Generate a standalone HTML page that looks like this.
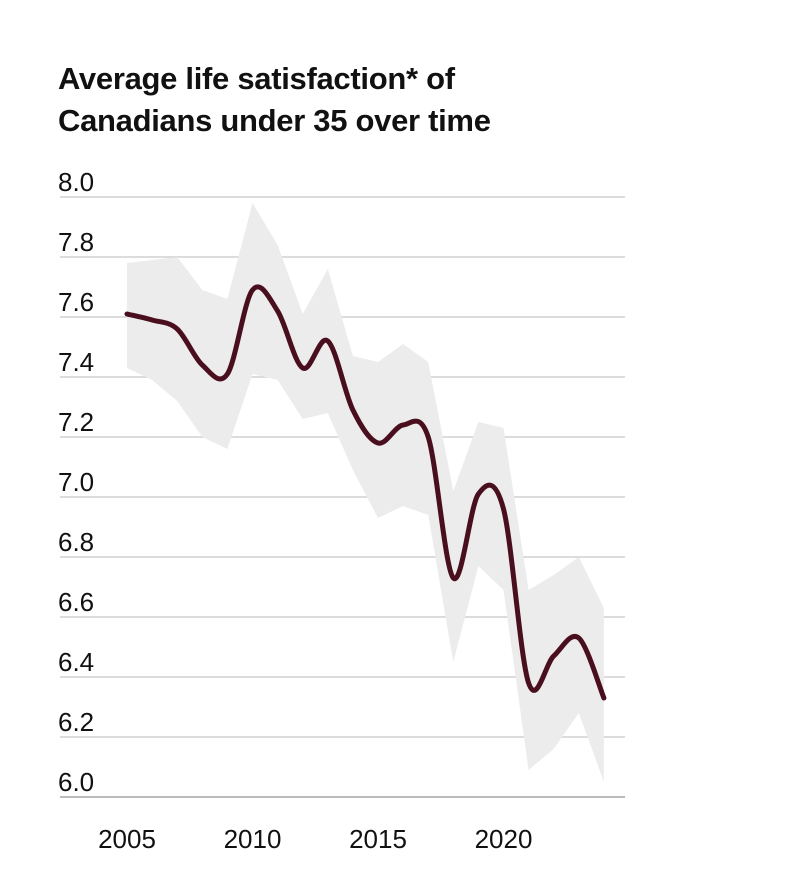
<!DOCTYPE html>
<html><head><meta charset="utf-8"><style>
body{margin:0;background:#fff;}
svg{display:block;font-family:"Liberation Sans",sans-serif;}
</style></head><body>
<svg id="chart" width="806" height="876">
<text x="58" y="89" font-size="31" font-weight="bold" fill="#111" letter-spacing="-0.3">Average life satisfaction* of</text>
<text x="58" y="131" font-size="31" font-weight="bold" fill="#111" letter-spacing="-0.3">Canadians under 35 over time</text>
<g id="grid"></g><g id="band"></g><g id="line"></g><g id="labels"></g>
</svg>
<script>
const years=[2005,2006,2007,2008,2009,2010,2011,2012,2013,2014,2015,2016,2017,2018,2019,2020,2021,2022,2023,2024];
const avg=[7.61,7.59,7.56,7.44,7.41,7.69,7.62,7.43,7.52,7.29,7.18,7.24,7.20,6.73,7.01,6.96,6.38,6.47,6.53,6.33];
const upper=[7.78,7.79,7.80,7.69,7.66,7.98,7.84,7.61,7.76,7.47,7.45,7.51,7.45,7.02,7.25,7.23,6.69,6.74,6.80,6.63];
const lower=[7.43,7.39,7.32,7.20,7.16,7.41,7.39,7.26,7.28,7.09,6.93,6.97,6.94,6.45,6.77,6.69,6.09,6.16,6.28,6.05];
const yTicks=[6.0,6.2,6.4,6.6,6.8,7.0,7.2,7.4,7.6,7.8,8.0];
const xTicks=[2005,2010,2015,2020];
const NS="http://www.w3.org/2000/svg";
const x=v=>127+(v-2005)*25.1;
const y=v=>197+(8-v)*300;
function mk(t,a,p){const e=document.createElementNS(NS,t);for(const k in a)e.setAttribute(k,a[k]);p.appendChild(e);return e;}
const G=document.getElementById('grid'),B=document.getElementById('band'),L=document.getElementById('line'),T=document.getElementById('labels');
yTicks.forEach(v=>{
  const l=mk('line',{x1:60,x2:625,y1:y(v),y2:y(v),stroke:v===6.0?'#bbb':'#d0d0d0','stroke-width':v===6.0?2:1.5},G);
  
  
  const t=mk('text',{x:58,y:y(v)-6,'font-size':26,fill:'#111'},T);t.textContent=v.toFixed(1);
  
  
});
xTicks.forEach(v=>{
  const t=mk('text',{x:x(v),y:848,'font-size':26,fill:'#111','text-anchor':'middle'},T);t.textContent=v;
  
  
});
let d='M'+years.map((yr,i)=>x(yr)+','+y(upper[i])).join('L');
for(let i=years.length-1;i>=0;i--)d+='L'+x(years[i])+','+y(lower[i]);
const band=mk('path',{d:d+'Z',fill:'#ececec'},B);


const pts=years.map((yr,i)=>[x(yr),y(avg[i])]);
let p='M'+pts[0][0]+','+pts[0][1];
for(let i=0;i<pts.length-1;i++){
  const p0=pts[Math.max(0,i-1)],p1=pts[i],p2=pts[i+1],p3=pts[Math.min(pts.length-1,i+2)];
  const c1=[p1[0]+(p2[0]-p0[0])/6,p1[1]+(p2[1]-p0[1])/6],c2=[p2[0]-(p3[0]-p1[0])/6,p2[1]-(p3[1]-p1[1])/6];
  p+='C'+c1+' '+c2+' '+p2;
}
const ln=mk('path',{d:p,fill:'none',stroke:'#4a0f1f','stroke-width':5,'stroke-linecap':'round','stroke-linejoin':'round'},L);


</script>
</body></html>
